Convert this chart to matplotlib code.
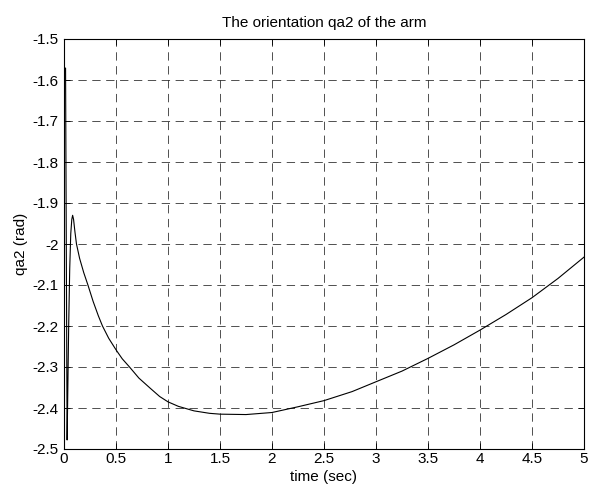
import numpy as np
import matplotlib as mpl
mpl.use("Agg")
import matplotlib.pyplot as plt

mpl.rcParams.update({"font.family": "sans-serif", "font.sans-serif": ["Liberation Sans"],
    "font.size": 11, "lines.scale_dashes": False})

# time (sec) and qa2 (rad)
t = [0, 0.015, 0.022, 0.03, 0.038, 0.045, 0.055, 0.065, 0.075, 0.083, 0.092,
     0.105, 0.12, 0.15, 0.19, 0.23, 0.28, 0.33, 0.37, 0.43, 0.5, 0.56, 0.63, 0.72,
     0.83, 0.92, 1.0, 1.1, 1.25, 1.4, 1.5, 1.75, 2.0, 2.25, 2.5, 2.77, 3.0, 3.25,
     3.5, 3.75, 4.0, 4.25, 4.5, 4.75, 5.0]
qa2 = [-1.5708, -1.571, -2.0, -2.478, -2.33, -2.2, -2.06, -1.975, -1.94, -1.93, -1.94,
       -1.97, -2.0, -2.035, -2.07, -2.1, -2.14, -2.175, -2.2, -2.23, -2.258, -2.28,
       -2.3, -2.327, -2.352, -2.372, -2.385, -2.396, -2.407, -2.413, -2.415, -2.416,
       -2.411, -2.397, -2.382, -2.36, -2.336, -2.31, -2.279, -2.246, -2.21, -2.172,
       -2.131, -2.084, -2.032]

fig = plt.figure(figsize=(5.89, 4.92), dpi=100)
ax = fig.add_axes([64/589, 43/492, 520/589, 410/492])
ax.plot(t, qa2, color="black", linewidth=0.8)

ax.set_xlim(0, 5)
ax.set_ylim(-2.5, -1.5)
ax.set_xticks(np.arange(0, 5.01, 0.5))
ax.set_yticks(np.arange(-2.5, -1.49, 0.1))
ax.set_xticklabels(["0", "0.5", "1", "1.5", "2", "2.5", "3", "3.5", "4", "4.5", "5"])
ax.set_yticklabels(["-2.5", "-2.4", "-2.3", "-2.2", "-2.1", "-2", "-1.9", "-1.8",
                    "-1.7", "-1.6", "-1.5"])
ax.tick_params(direction="in", length=4, width=0.6, top=True, right=True, labelsize=11)
ax.tick_params(axis="x", pad=2)
ax.tick_params(axis="y", pad=4)
ax.grid(True, color="#333333", linewidth=0.6, dashes=(6, 4))
for s in ax.spines.values():
    s.set_linewidth(0.8)

ax.set_title("The orientation qa2 of the arm", fontsize=11, pad=9)
ax.set_xlabel("time (sec)", fontsize=11, labelpad=3)
ax.set_ylabel("qa2 (rad)", fontsize=11, labelpad=3)

fig.savefig("out.png", dpi=100)
